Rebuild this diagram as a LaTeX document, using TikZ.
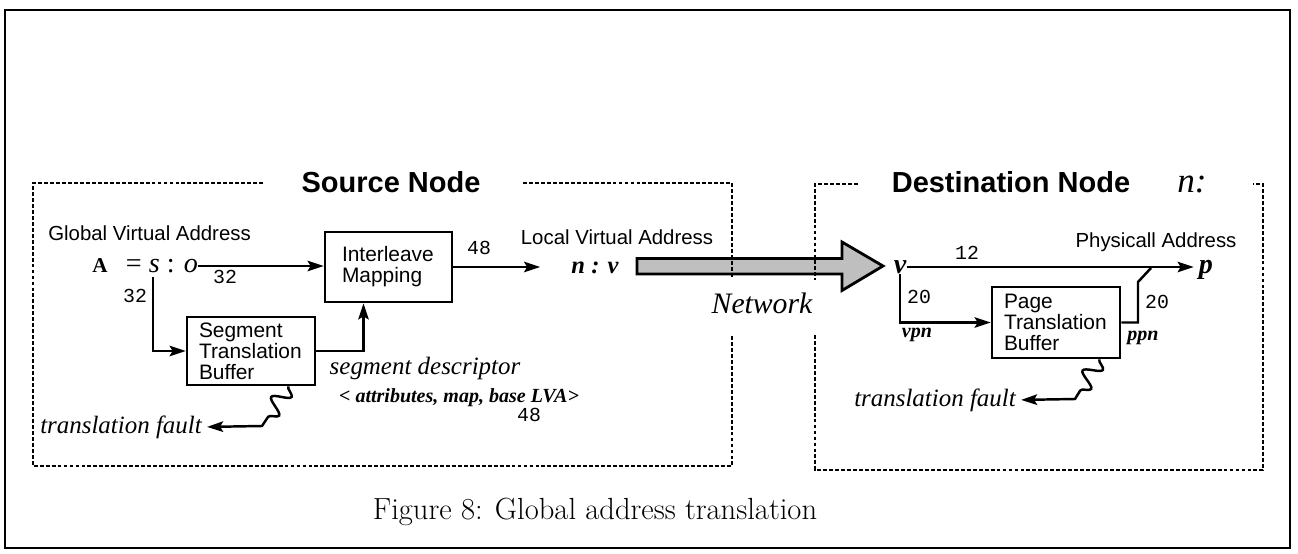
\documentclass[tikz,border=0pt]{standalone}
\usepackage{fontspec}
\usepackage{tikz}
\usetikzlibrary{arrows.meta,positioning,calc,decorations.pathmorphing}
\newfontfamily\helv{Liberation Sans}
\newfontfamily\tms{Liberation Serif}
\newfontfamily\cour{Liberation Mono}
\tikzset{
  box/.style={draw,line width=1.6pt,align=left,text width=2.08cm,inner xsep=0.24cm,inner ysep=0pt,font=\helv\fontsize{11.9}{11.9}\selectfont},
  arr/.style={-{Stealth[length=3.2mm,width=2.1mm,inset=0.6mm]},line width=1.4pt},
  wire/.style={line width=1.4pt},
  lbl/.style={font=\helv\fontsize{11.6}{12}\selectfont,inner sep=0pt},
  head/.style={font=\helv\bfseries\fontsize{16.5}{18}\selectfont,inner sep=0pt},
  num/.style={font=\cour\fontsize{11.3}{12}\selectfont,inner sep=0pt},
  itl/.style={font=\tms\itshape\fontsize{14.2}{16}\selectfont,inner sep=0pt},
  itls/.style={font=\tms\itshape\bfseries\fontsize{11.4}{12}\selectfont,inner sep=0pt},
  sym/.style={font=\tms\itshape\bfseries\fontsize{16}{16}\selectfont,inner sep=0pt},
  dashbox/.style={line width=1.2pt,dash pattern=on 2.2pt off 1.2pt},
  outer/.style={draw,line width=1.4pt},
  netw/.style={draw,line width=1.6pt,fill=black!25},
  wavy/.style={decoration={snake,amplitude=0.17cm,segment length=0.45cm}},
}
\begin{document}
\begin{tikzpicture}[x=0.02cm,y=-0.02cm]
\useasboundingbox (0,0) rectangle (1298,554);
\draw[outer] (5,10) rectangle (1290,548);
% network link between the two nodes
\coordinate (ns) at (637,266); \coordinate (ne) at (883,266);
\filldraw[netw] (ns) ++(0,-7.5) -- ++(205,0) -- ++(0,-16.5) -- (ne) -- ++(-41,24.5) -- ++(0,-16.5) -- ++(-205,0) -- cycle;
\node[font=\tms\itshape\fontsize{16.9}{18}\selectfont,inner sep=0pt] (netl) at (762,303) {Network};
% source node
\node[head,anchor=base] (srct) at (391,193) {Source Node};
\draw[dashbox] (263,183) -- (33,183) -- (33,466) -- (732,466) -- (732,335);
\draw[dashbox] (523,183) -- (732,183) -- (732,278);
\node[lbl,anchor=west] (gva) at (48,233) {Global Virtual Address};
\node[font=\tms\bfseries\fontsize{12}{12}\selectfont,inner sep=0pt] (adra) at (100,266) {A};
\node[font=\tms\fontsize{16}{16}\selectfont,inner sep=0pt] (so) at (162,266) {= \textit{s} : \textit{o}};
\node[box,text width=1.86cm,inner xsep=0.34cm,minimum height=1.4cm] (ilm) at (388.5,267) {Interleave\\Mapping};
\node[box,minimum height=1.36cm] (stb) at (251,351) {Segment\\Translation\\Buffer};
\coordinate (br) at (153,277);
\draw[arr] (so.east) -- (so.east -| ilm.west);
\draw[arr] (br) |- (stb.west);
\draw[arr] (stb.east) -| ($(ilm.south)+(-25,0)$);
\node[num] (n32a) at (225,277) {32};
\node[num] (n32b) at (135,296) {32};
\node[itl] (sdesc) at (425,368) {segment descriptor};
\node[itls] (sattr) at (459,398) {< attributes, map, base LVA>};
\node[num] (n48b) at (529,415) {48};
\node[itl] (tfa) at (121,427) {translation fault};
\coordinate (wa) at (262,426);
\draw[arr,shorten >=0.1cm] ($(stb.south east)+(-28,0)$) decorate[wavy]{-- (wa)} -- (tfa.east);
\node[lbl] (lvat) at (617,237) {Local Virtual Address};
\node[font=\tms\itshape\bfseries\fontsize{14}{14}\selectfont,inner sep=0pt] (nv) at (595,268) {n : v};
\draw[arr,shorten >=0.62cm] (ilm.east) -- (ilm.east -| nv.west);
\node[num] (n48a) at (479,248) {48};
% destination node
\node[head,anchor=base] (dstt) at (1011,193) {Destination Node};
\node[font=\tms\itshape\fontsize{20}{20}\selectfont,inner sep=0pt,anchor=base] (dstn) at (1192,193) {n:};
\draw[dashbox] (858,184) -- (815,184) -- (815,280);
\draw[dashbox] (815,335) -- (815,470) -- (1263,470) -- (1263,184) -- (1253,184);
\node[sym] (v) at (900,267) {v};
\node[sym] (p) at (1206,270) {p};
\draw[arr,shorten >=0.1cm] (v.east) -- (v.east -| p.west);
\node[num] (n12) at (967,253) {12};
\node[lbl] (pat) at (1156,242) {Physicall Address};
\node[box,minimum height=1.42cm] (ptb) at (1056,322.5) {Page\\Translation\\Buffer};
\draw[arr] (v.south) |- (ptb.west);
\node[num] (n20a) at (919,297) {20};
\node[itls] (vpn) at (917,335) {vpn};
\coordinate (j1) at (1138,282); \coordinate (j2) at (1151,268);
\draw[wire] (ptb.east) -| (j1) -- (j2);
\node[num] (n20b) at (1157,302) {20};
\node[itls] (ppn) at (1143,338) {ppn};
\node[itl] (tfb) at (935,400) {translation fault};
\coordinate (wb) at (1075,399);
\draw[arr,shorten >=0.1cm] ($(ptb.south east)+(-22,0)$) decorate[wavy]{-- (wb)} -- (tfb.east);
% caption
\node[font=\fontsize{17.4}{20}\selectfont,inner sep=0pt] (capt) at (595,512) {Figure 8: Global address translation};
\end{tikzpicture}
\end{document}
